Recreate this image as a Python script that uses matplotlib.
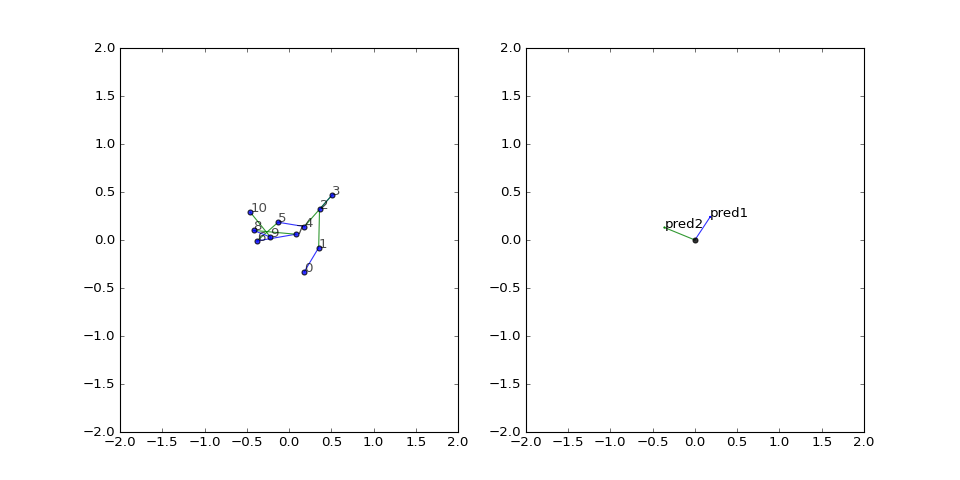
import numpy as np
import matplotlib
matplotlib.use("Agg")
import matplotlib.pyplot as plt

plt.style.use('classic')

# puntos del esqueleto (izquierda)
px = [0.18, 0.35, 0.36, 0.51, 0.18, -0.13, -0.38, 0.08, -0.42, -0.22, -0.46]
py = [-0.33, -0.08, 0.32, 0.47, 0.14, 0.185, -0.01, 0.06, 0.10, 0.03, 0.29]
etiquetas = [str(i) for i in range(len(px))]

# predicciones (derecha)
origen = (0.0, 0.0)
pred_x = [0.18, -0.36]
pred_y = [0.24, 0.13]
pred_nombres = ["pred1", "pred2"]

fig = plt.figure(figsize=(12, 6), dpi=80)
ax1 = fig.add_subplot(1, 2, 1)
ax2 = fig.add_subplot(1, 2, 2)

colores = ['b', 'g']
for i in range(len(px) - 1):
    ax1.plot(px[i:i + 2], py[i:i + 2], color=colores[i % 2], alpha=0.8)
ax1.scatter(px, py, c='b', s=20, alpha=0.8, zorder=3)
for i, t in enumerate(etiquetas):
    ax1.text(px[i], py[i], t, color='k', alpha=0.7)

for i in range(len(pred_x)):
    ax2.plot([origen[0], pred_x[i]], [origen[1], pred_y[i]], color=colores[i % 2], alpha=0.8)
    ax2.scatter([pred_x[i]], [pred_y[i]], c=colores[i % 2], s=4, edgecolors='none')
    ax2.text(pred_x[i], pred_y[i], pred_nombres[i])
ax2.scatter([origen[0]], [origen[1]], c='k', s=20, alpha=0.8, zorder=3)

for ax in (ax1, ax2):
    ax.set_xlim(-2, 2)
    ax.set_ylim(-2, 2)

fig.savefig("out.png", dpi=80, facecolor='white')
